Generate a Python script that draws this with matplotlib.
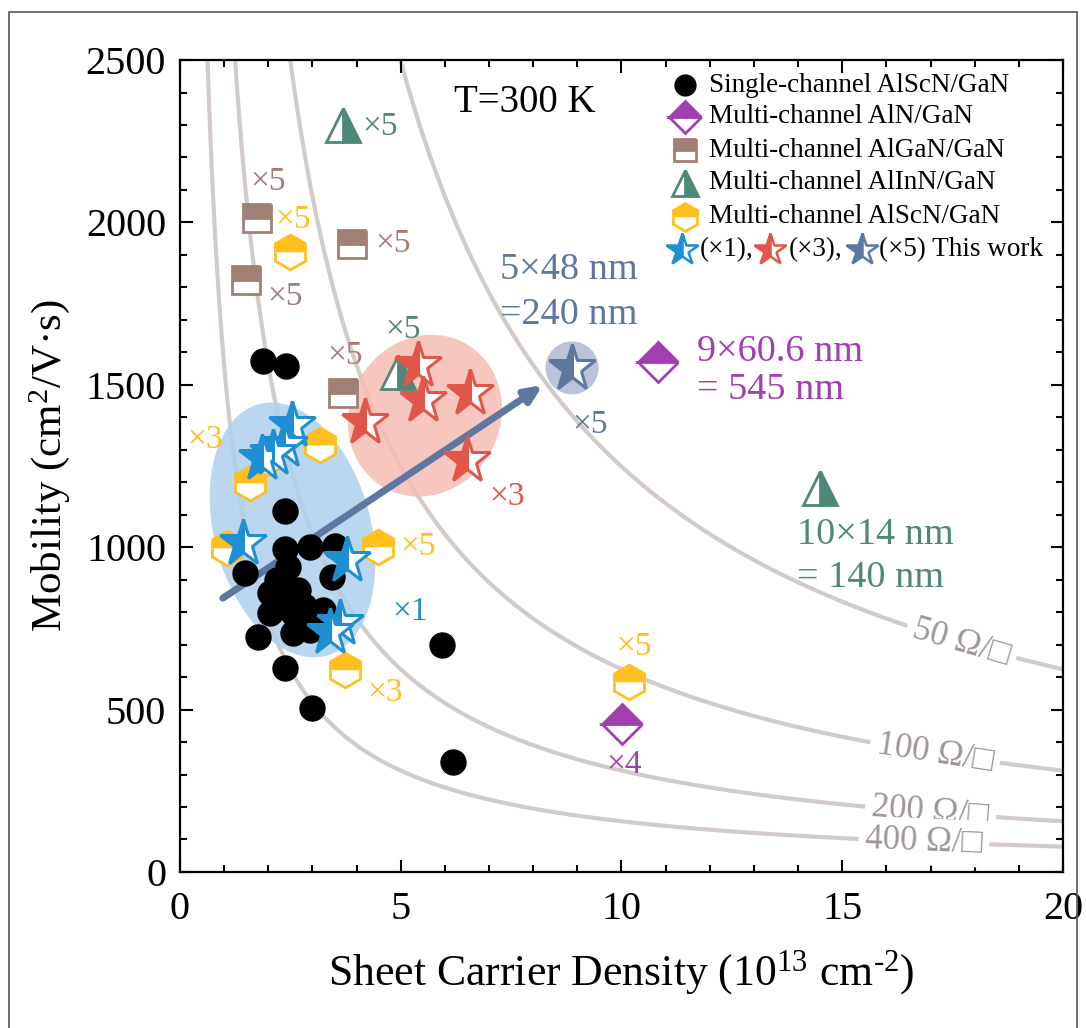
import numpy as np
import matplotlib
matplotlib.use("Agg")
import matplotlib.pyplot as plt
from matplotlib.patches import Ellipse, Rectangle
from matplotlib.transforms import Affine2D

plt.rcParams['font.family'] = ['Liberation Serif', 'DejaVu Serif']
plt.rcParams['mathtext.fontset'] = 'custom'
plt.rcParams['mathtext.rm'] = 'Liberation Serif'

# ---- data (n in 1e13 cm^-2, mobility in cm^2/Vs) ----
single_n = [1.87, 2.4, 2.38, 2.38, 2.94, 3.51, 1.47, 2.45, 3.44, 2.04, 2.67, 2.33,
            2.04, 2.56, 3.24, 1.77, 2.56, 2.94, 2.38, 2.99, 5.93, 6.18, 2.2, 2.8]
single_mu = [1573, 1558, 1111, 994, 1001, 1005, 920, 939, 908, 859, 868, 837,
             797, 797, 806, 724, 735, 745, 628, 505, 699, 339, 900, 820]

aln_n = [10.83, 10.01]
aln_mu = [1570, 456]

algan_n = [1.74, 1.5, 3.9, 3.7]
algan_mu = [2013, 1822, 1935, 1475]

alinn_n = [3.69, 4.94, 14.5]
alinn_mu = [2300, 1540, 1182]

alscn_n = [2.49, 1.59, 1.97, 3.17, 1.06, 4.48, 3.74, 10.17]
alscn_mu = [1909, 1197, 1274, 1314, 998, 1001, 622, 585]

star1_n = [2.54, 2.35, 1.86, 2.1, 1.43, 3.78, 3.62, 3.4]
star1_mu = [1376, 1315, 1274, 1290, 1013, 960, 767, 740]

star3_n = [5.39, 5.5, 6.57, 4.19, 6.5]
star3_mu = [1561, 1453, 1475, 1385, 1268]

star5_n = [8.88]
star5_mu = [1552]

sheet_res = [50, 100, 200, 400]
res_label_n = [17.7, 17.1, 17.0, 16.85]

q = 1.602e-19

# colours
c_aln = '#a23fb0'
c_algan = '#a27f74'
c_alinn = '#4f8878'
c_alscn = '#ffbf1f'
c_s1 = '#1e8fd2'
c_s3 = '#e2564a'
c_s5 = '#5d77a1'
c_curve = '#d3cbc7'
c_rtext = '#9e9794'

fig = plt.figure(figsize=(10.86, 10.28), dpi=100)
ax = fig.add_axes([0.1657, 0.1518, 0.8131, 0.7898])
ax.set_xlim(0, 20)
ax.set_ylim(0, 2500)

# iso sheet-resistance curves
n_axis = np.linspace(0.05, 20, 600)
for R, nl in zip(sheet_res, res_label_n):
    mu = 1.0 / (q * n_axis * 1e13 * R)
    ax.plot(n_axis, mu, color=c_curve, lw=3, zorder=1)
    mul = 1.0 / (q * nl * 1e13 * R)
    d = 0.05
    p1 = ax.transData.transform((nl - d, 1.0 / (q * (nl - d) * 1e13 * R)))
    p2 = ax.transData.transform((nl + d, 1.0 / (q * (nl + d) * 1e13 * R)))
    ang = np.degrees(np.arctan2(p2[1] - p1[1], p2[0] - p1[0]))
    ax.text(nl, mul, f'{R} Ω/□', fontsize=25, color=c_rtext, rotation=ang,
            rotation_mode='anchor', ha='center', va='center', zorder=2,
            bbox=dict(fc='white', ec='none', pad=5))

# shaded regions (drawn in equal-pixel space)
k = (2500 / 812) / (20 / 883)
tr = Affine2D().scale(1, k) + ax.transData
ax.add_patch(Ellipse((2.55, 1053 / k), 3.55, 5.9, angle=15, fc='#afd1ed', ec='none',
                     alpha=0.85, transform=tr, zorder=1.5))
ax.add_patch(Ellipse((5.55, 1405 / k), 3.4, 3.75, angle=-30, fc='#f6beb4', ec='none',
                     alpha=0.85, transform=tr, zorder=1.5))
ax.add_patch(Ellipse((8.88, 1552 / k), 1.2, 1.2, fc='#aab4d3', ec='none',
                     alpha=0.8, transform=tr, zorder=1.5))

# arrow
ax.annotate('', xy=(8.22, 1499), xytext=(0.97, 843),
            arrowprops=dict(arrowstyle='-|>,head_length=1.0,head_width=0.45',
                            color=c_s5, lw=5, shrinkA=0, shrinkB=0), zorder=2.5)

mk = dict(ls='none', mew=2, zorder=3)
ax.plot(single_n, single_mu, 'o', color='black', ms=18, ls='none', zorder=3)
ax.plot(aln_n, aln_mu, 'D', ms=20, mfc=c_aln, mec=c_aln, fillstyle='top',
        markerfacecoloralt='white', **mk)
ax.plot(algan_n, algan_mu, 's', ms=20, mfc=c_algan, mec=c_algan, fillstyle='top',
        markerfacecoloralt='white', **mk)
ax.plot(alinn_n, alinn_mu, '^', ms=24, mfc=c_alinn, mec=c_alinn, fillstyle='right',
        markerfacecoloralt='white', **mk)
ax.plot(alscn_n, alscn_mu, 'h', ms=25, mfc=c_alscn, mec=c_alscn, fillstyle='top',
        markerfacecoloralt='white', **mk)
for sn, smu, col in [(star1_n, star1_mu, c_s1), (star3_n, star3_mu, c_s3),
                     (star5_n, star5_mu, c_s5)]:
    ax.plot(sn, smu, '*', ms=35, mfc=col, mec=col, fillstyle='left',
            markerfacecoloralt='white', ls='none', mew=2.2, zorder=4)

# multiplier labels
tag = dict(fontsize=24, ha='center', va='center', zorder=5)
ax.text(2.0, 2124, '×5', color=c_algan, **tag)
ax.text(2.38, 1770, '×5', color=c_algan, **tag)
ax.text(4.82, 1933, '×5', color=c_algan, **tag)
ax.text(3.74, 1589, '×5', color=c_algan, **tag)
ax.text(4.53, 2294, '×5', color=c_alinn, **tag)
ax.text(5.05, 1669, '×5', color=c_alinn, **tag)
ax.text(2.56, 2007, '×5', color=c_alscn, **tag)
ax.text(0.57, 1330, '×3', color=c_alscn, **tag)
ax.text(5.39, 1000, '×5', color=c_alscn, **tag)
ax.text(4.64, 551, '×3', color=c_alscn, **tag)
ax.text(10.28, 693, '×5', color=c_alscn, **tag)
ax.text(10.06, 329, '×4', color=c_aln, **tag)
ax.text(5.21, 800, '×1', color=c_s1, **tag)
ax.text(7.4, 1154, '×3', color=c_s3, **tag)
ax.text(9.29, 1376, '×5', color=c_s5, **tag)

note = dict(fontsize=27.5, ha='left', va='center', zorder=5)
ax.text(7.25, 1853, '5×48 nm', color=c_s5, **note)
ax.text(7.25, 1715, '=240 nm', color=c_s5, **note)
ax.text(11.71, 1601, '9×60.6 nm', color=c_aln, **note)
ax.text(11.71, 1484, '= 545 nm', color=c_aln, **note)
ax.text(13.97, 1037, '10×14 nm', color=c_alinn, **note)
ax.text(13.97, 905, '= 140 nm', color=c_alinn, **note)
ax.text(7.81, 2368, 'T=300 K', fontsize=28, ha='center', va='center', zorder=5)

# legend (drawn by hand so the last row can hold three stars)
lx, tx = 0.572, 0.599
rows = [0.969, 0.930, 0.889, 0.849, 0.807]
names = ['Single-channel AlScN/GaN', 'Multi-channel AlN/GaN', 'Multi-channel AlGaN/GaN',
         'Multi-channel AlInN/GaN', 'Multi-channel AlScN/GaN']
styles = [dict(marker='o', ms=15, color='black'),
          dict(marker='D', ms=16, mfc=c_aln, mec=c_aln, fillstyle='top', markerfacecoloralt='white', mew=2),
          dict(marker='s', ms=16, mfc=c_algan, mec=c_algan, fillstyle='top', markerfacecoloralt='white', mew=2),
          dict(marker='^', ms=19, mfc=c_alinn, mec=c_alinn, fillstyle='right', markerfacecoloralt='white', mew=2),
          dict(marker='h', ms=20, mfc=c_alscn, mec=c_alscn, fillstyle='top', markerfacecoloralt='white', mew=2)]
for y, name, st in zip(rows, names, styles):
    ax.plot([lx], [y], transform=ax.transAxes, ls='none', clip_on=False, zorder=6, **st)
    ax.text(tx, y, name, transform=ax.transAxes, fontsize=19.5, ha='left', va='center', zorder=6)
yl = 0.766
for sx, col, lab, tx2 in [(0.569, c_s1, '(×1),', 0.589), (0.668, c_s3, '(×3),', 0.690),
                          (0.772, c_s5, '(×5) This work', 0.792)]:
    ax.plot([sx], [yl], '*', transform=ax.transAxes, ms=24, mfc=col, mec=col, fillstyle='left',
            markerfacecoloralt='white', mew=1.8, clip_on=False, zorder=6)
    ax.text(tx2, yl, lab, transform=ax.transAxes, fontsize=19.5, ha='left', va='center', zorder=6)

# axes styling
ax.set_xticks([0, 5, 10, 15, 20])
ax.set_yticks([0, 500, 1000, 1500, 2000, 2500])
ax.set_xticks(np.arange(0, 21, 1), minor=True)
ax.set_yticks(np.arange(0, 2501, 100), minor=True)
ax.tick_params(which='both', direction='in', top=True, right=True, width=1.5,
               labelsize=29)
ax.tick_params(which='major', length=9)
ax.tick_params(which='minor', length=5)
ax.tick_params(axis='x', pad=14)
ax.tick_params(axis='y', pad=10)
for s in ax.spines.values():
    s.set_linewidth(1.6)
ax.set_xlabel('Sheet Carrier Density (10$\\mathregular{^{13}}$ cm$\\mathregular{^{\u2010 2}}$)',
              fontsize=31.5, labelpad=14)
ax.set_ylabel('Mobility (cm$\\mathregular{^2}$/V·s)', fontsize=31, labelpad=10)

fig.add_artist(Rectangle((9 / 1086, -0.02), 1068 / 1086, 1.02 - 12 / 1028,
                         transform=fig.transFigure, fill=False, ec='#555555', lw=1.2))

fig.savefig('out.png', dpi=100)
